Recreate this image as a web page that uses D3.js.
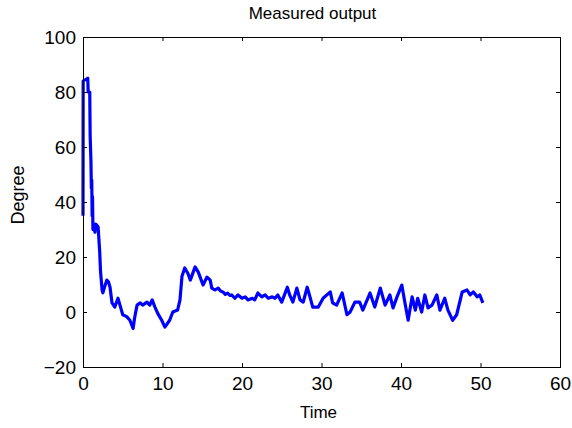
<!DOCTYPE html>
<html><head><meta charset="utf-8">
<script src="https://cdn.jsdelivr.net/npm/d3@7"></script>
<style>
body{margin:0;background:#fff;}
text{font-family:"Liberation Sans",Arial,sans-serif;fill:#000;}
</style></head><body>
<script>
const times = [0,0.02,0.6,0.65,0.85,0.9,1.0,1.05,1.1,1.15,1.2,1.25,1.3,1.5,1.6,1.9,2.1,2.2,2.4,2.5,2.7,3.0,3.2,3.4,3.65,4.0,4.4,4.65,5.0,5.5,5.9,6.3,6.5,6.8,7.2,7.5,8.05,8.4,8.7,9.05,9.4,9.9,10.3,10.9,11.3,11.9,12.2,12.45,12.8,13.2,13.5,14.1,14.5,15.1,15.6,16.0,16.2,16.6,17.0,17.3,17.6,17.9,18.2,18.5,18.7,19.1,19.5,20.0,20.4,20.75,21.3,21.6,22.0,22.5,22.9,23.3,23.8,24.15,24.5,25.0,25.7,26.0,26.4,26.9,27.3,27.7,28.2,28.55,28.9,29.6,30.2,31.1,31.4,31.9,32.6,33.2,33.6,34.2,34.8,35.2,36.1,36.7,37.4,38.0,38.6,39.0,39.5,40.1,40.5,40.9,41.4,41.8,42.1,42.6,43.0,43.4,43.9,44.5,44.9,45.5,45.9,46.5,47.0,47.7,48.3,48.7,49.1,49.6,49.9,50.3];
const degrees = [35,84,85,80,80,64,55,45,48,35,42,30,32,29,32,31,22,15,8,7,9,11.6,11,9,3.3,1.8,5,2.5,-1,-1.7,-3,-6,-2,2.5,3.3,2.5,3.6,2.5,4.4,1.8,-0.5,-3,-5.5,-3,0,0.7,4.4,13,16,14,11.6,16.4,14.5,9.8,12.7,11.6,8.7,8,8.7,7.6,7.3,6.4,6.9,6.0,6.2,5,6.2,5,5.5,4.4,5,4.4,6.9,5.5,6.2,5,5.5,5,6.2,3.6,9,6.2,3.6,8.7,4.4,3.6,9,5.5,1.8,1.8,5,7.3,3.3,2.5,6.9,-1,0,3.6,3.6,0.7,6.9,1.8,8.7,2.5,6.2,1.5,5.5,9.8,3.3,-3,5.5,0.7,5,0,6.2,1.5,2.5,6.2,0.7,5,0.7,-3,-1,7.3,8,6.2,7.3,5.5,6.2,3.3];
const xTicks = [0,10,20,30,40,50,60];
const yTicks = [-20,0,20,40,60,80,100];
const title = "Measured output", xLabel = "Time", yLabel = "Degree";

const W = 572, H = 428;
const m = {l:83, t:37, r:12, b:61};
const iw = W - m.l - m.r, ih = H - m.t - m.b;
const svg = d3.select("body").append("svg").attr("width",W).attr("height",H);
const g = svg.append("g").attr("transform",`translate(${m.l},${m.t})`);
const x = d3.scaleLinear().domain([0,60]).range([0,iw]);
const y = d3.scaleLinear().domain([-20,100]).range([ih,0]);

const data = times.map((t,i)=>({t, v:degrees[i]}));
g.append("path").datum(data)
  .attr("fill","none").attr("stroke","#0000ff").attr("stroke-width",3.2)
  .attr("stroke-linejoin","round")
  .attr("d", d3.line().x(d=>x(d.t)).y(d=>y(d.v)));

const xb = g.append("g").attr("transform",`translate(0,${ih})`).call(d3.axisBottom(x).tickValues(xTicks).tickSizeInner(-4).tickSizeOuter(0).tickPadding(10));
const xt = g.append("g").call(d3.axisTop(x).tickValues(xTicks).tickSizeInner(-4).tickSizeOuter(0).tickFormat(""));
const yl = g.append("g").call(d3.axisLeft(y).tickValues(yTicks).tickSizeInner(-4).tickSizeOuter(0).tickPadding(7));
const yr = g.append("g").attr("transform",`translate(${iw},0)`).call(d3.axisRight(y).tickValues(yTicks).tickSizeInner(-4).tickSizeOuter(0).tickFormat(""));
[xb,xt,yl,yr].forEach(a=>{a.select(".domain").remove(); a.selectAll("line").attr("stroke","#000");});
xb.selectAll("text").style("font-size","19px").attr("font-family",null);
yl.selectAll("text").style("font-size","19px").attr("font-family",null);
g.append("rect").attr("width",iw).attr("height",ih).attr("fill","none").attr("stroke","#000").attr("stroke-width",1).attr("shape-rendering","crispEdges");

svg.append("text").attr("x",m.l+iw/2-9).attr("y",19).attr("text-anchor","middle").style("font-size","17px").text(title);
svg.append("text").attr("x",m.l+iw/2-3).attr("y",418).attr("text-anchor","middle").style("font-size","17px").text(xLabel);
svg.append("text").attr("transform",`translate(24,${m.t+ih/2-7}) rotate(-90)`).attr("text-anchor","middle").style("font-size","18px").text(yLabel);
</script></body></html>
